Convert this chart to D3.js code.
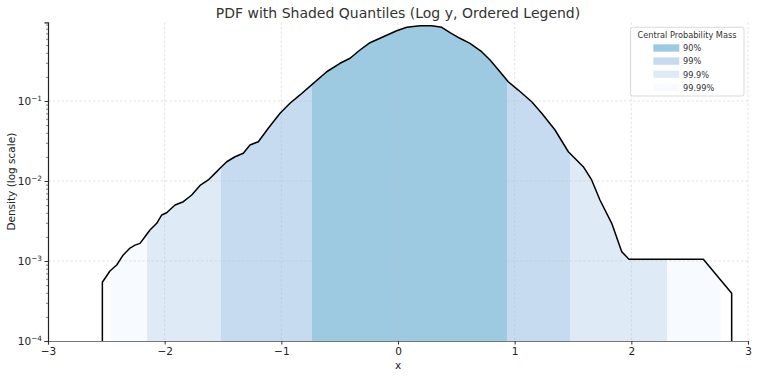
<!DOCTYPE html>
<html><head><meta charset="utf-8">
<script src="https://cdn.jsdelivr.net/npm/d3@7"></script>
<style>
body{margin:0;background:#fff;}
text{font-family:"DejaVu Sans",sans-serif;}
</style></head>
<body><svg id="c" width="758" height="376"></svg>
<script>
// curve data (x, density)
const xs = [-2.534,-2.469,-2.411,-2.355,-2.297,-2.254,-2.211,-2.169,-2.126,-2.068,-2.025,-1.983,-1.911,-1.840,-1.768,-1.697,-1.626,-1.554,-1.526,-1.468,-1.397,-1.326,-1.269,-1.197,-1.112,-1.011,-0.926,-0.840,-0.726,-0.611,-0.497,-0.411,-0.326,-0.240,-0.126,-0.011,0.075,0.189,0.289,0.375,0.446,0.531,0.617,0.717,0.789,0.874,0.945,1.031,1.146,1.232,1.346,1.460,1.588,1.660,1.731,1.832,1.917,1.980,2.617,2.860];
const ys = [5.42e-4,7.50e-4,8.91e-4,1.19e-3,1.45e-3,1.58e-3,1.66e-3,2.01e-3,2.44e-3,2.96e-3,3.76e-3,4.01e-3,5.01e-3,5.51e-3,6.68e-3,8.79e-3,1.03e-2,1.31e-2,1.44e-2,1.74e-2,2.01e-2,2.22e-2,2.82e-2,3.10e-2,4.56e-2,7.02e-2,9.36e-2,0.119,0.166,0.232,0.296,0.342,0.434,0.535,0.636,0.756,0.834,0.873,0.873,0.834,0.714,0.608,0.526,0.413,0.325,0.232,0.174,0.137,9.80e-2,7.02e-2,4.34e-2,2.32e-2,1.51e-2,1.03e-2,5.79e-3,2.96e-3,1.31e-3,1.05e-3,1.05e-3,3.95e-4];
// central probability mass intervals
const bandLabels = ["90%","99%","99.9%","99.99%"];
const bandLo = [-0.737,-1.517,-2.151,-2.463];
const bandHi = [0.934,1.474,2.306,2.766];
const bandColors = ["#9ecae1","#c6dbef","#deebf7","#f7fbff"];
const xTicks = [-3,-2,-1,0,1,2,3];
const yTicks = [1e-4,1e-3,1e-2,1e-1];
const yMin = 1e-4, yMax = 0.873*1.1;

const svg = d3.select("#c");
const L=48,R=748,T=22.4,B=341;
const x = d3.scaleLinear().domain([-3,3]).range([L,R]);
const y = d3.scaleLog().domain([yMin,yMax]).range([B,T]);
const pts = xs.map((v,i)=>[v,ys[i]]);
const defs = svg.append("defs");

// bands: widest first
const area = d3.area().x(d=>x(d[0])).y0(y(yMin)).y1(d=>y(d[1]));
for(let i=bandLabels.length-1;i>=0;i--){
  const id="clip"+i;
  defs.append("clipPath").attr("id",id).append("rect")
    .attr("x",x(bandLo[i])).attr("y",T).attr("width",x(bandHi[i])-x(bandLo[i])).attr("height",B-T);
  svg.append("path").datum(pts).attr("d",area).attr("fill",bandColors[i]).attr("clip-path",`url(#${id})`);
}

// grid
const g = svg.append("g");
const gridStyle = s=>s.attr("stroke","#b8b8b8").attr("stroke-opacity",0.5).attr("stroke-width",0.8).attr("stroke-dasharray","2.5,2");
xTicks.forEach(t=>{ if(t>-3) g.append("line").attr("x1",x(t)).attr("x2",x(t)).attr("y1",T).attr("y2",B).call(gridStyle);});
yTicks.forEach(t=>{ if(t>yMin) g.append("line").attr("x1",L).attr("x2",R).attr("y1",y(t)).attr("y2",y(t)).call(gridStyle);});

// curve with vertical drops
const line = d3.line().x(d=>x(d[0])).y(d=>y(d[1]));
const full = [[xs[0],yMin],...pts,[xs[xs.length-1],yMin]];
svg.append("path").datum(full).attr("d",line).attr("fill","none").attr("stroke","#000").attr("stroke-width",1.5).attr("stroke-linejoin","round");

// axes
const ax = svg.append("g").attr("transform",`translate(0,${B})`)
  .call(d3.axisBottom(x).tickValues(xTicks).tickSize(3.5).tickPadding(3).tickFormat(d=>d3.format("")(d).replace("-","\u2212")));
ax.select(".domain").attr("stroke","#777").attr("stroke-width",1.2);
ax.selectAll(".tick line").attr("stroke","#333");
ax.selectAll("text").attr("font-size",10.5).attr("fill","#222").attr("font-family","DejaVu Sans");

const minor=[];
for(let k=-4;k<0;k++) for(let m=2;m<10;m++){const v=m*Math.pow(10,k); if(v<=yMax) minor.push(v);}
const ayg = svg.append("g").attr("transform",`translate(${L},0)`);
ayg.call(d3.axisLeft(y).tickValues(minor).tickSize(2).tickFormat(""));
ayg.select(".domain").remove();
ayg.selectAll(".tick line").attr("stroke","#333").attr("stroke-width",0.6);
const ay = svg.append("g").attr("transform",`translate(${L},0)`)
  .call(d3.axisLeft(y).tickValues(yTicks).tickSize(3.5).tickPadding(3).tickFormat(""));
ay.select(".domain").attr("stroke","#222").attr("stroke-width",1.2);
ay.selectAll(".tick line").attr("stroke","#333");
ay.selectAll(".tick").each(function(d){
  const t = d3.select(this).append("text").attr("x",-6).attr("dy","0.32em").attr("text-anchor","end")
    .attr("font-size",10.5).attr("fill","#222");
  t.append("tspan").text("10");
  t.append("tspan").attr("font-size",7.3).attr("dy","-0.55em").text("\u2212"+Math.round(-Math.log10(d)));
});

// labels
svg.append("text").attr("x",(L+R)/2).attr("y",18).attr("text-anchor","middle").attr("font-size",14).attr("fill","#333")
  .text("PDF with Shaded Quantiles (Log y, Ordered Legend)");
svg.append("text").attr("x",(L+R)/2).attr("y",369).attr("text-anchor","middle").attr("font-size",10.5).attr("fill","#222").text("x");
svg.append("text").attr("transform",`translate(15,${(T+B)/2}) rotate(-90)`).attr("text-anchor","middle").attr("font-size",10.5).attr("fill","#222").text("Density (log scale)");

// legend
const lg = svg.append("g");
lg.append("rect").attr("x",630.5).attr("y",27.3).attr("width",113.5).attr("height",68.7).attr("rx",2)
  .attr("fill","#fff").attr("fill-opacity",0.8).attr("stroke","#d0d0d0").attr("stroke-width",0.8);
lg.append("text").attr("x",687).attr("y",38).attr("text-anchor","middle").attr("font-size",8.2).attr("fill","#333").text("Central Probability Mass");
bandLabels.forEach((lab,i)=>{
  const yy = 44.3 + i*13.1;
  lg.append("rect").attr("x",653.3).attr("y",yy).attr("width",26).attr("height",7.4).attr("fill",bandColors[i]);
  lg.append("text").attr("x",683).attr("y",yy+7).attr("font-size",8.2).attr("fill","#333").text(lab);
});
</script></body></html>
